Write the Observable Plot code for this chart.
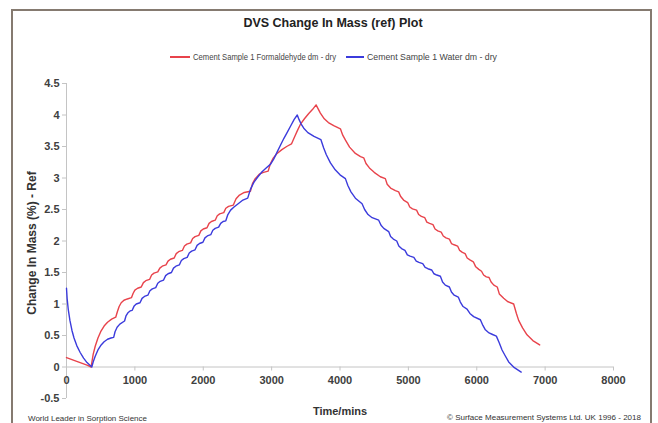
<!DOCTYPE html>
<html>
<head>
<meta charset="utf-8">
<script src="https://cdn.jsdelivr.net/npm/d3@7"></script>
<script src="https://cdn.jsdelivr.net/npm/@observablehq/plot@0.6"></script>
<style>
  html, body { margin: 0; padding: 0; background: #fff; }
  #wrap { position: relative; width: 658px; height: 423px; overflow: hidden; font-family: "Liberation Sans", Arial, sans-serif; }
  #wrap svg.plot { position: absolute; left: 0; top: 0; }
  #overlay { position: absolute; left: 0; top: 0; pointer-events: none; }
</style>
</head>
<body>
<div id="wrap"></div>
<script>
const chartTitle = "DVS Change In Mass (ref) Plot";
const seriesNames = ["Cement Sample 1 Formaldehyde dm - dry", "Cement Sample 1 Water dm - dry"];
const xLabel = "Time/mins";
const yLabel = "Change In Mass (%) - Ref";
const footLeft = "World Leader in Sorption Science";
const footRight = "\u00A9 Surface Measurement Systems Ltd. UK 1996 - 2018";
const xTicks = [0, 1000, 2000, 3000, 4000, 5000, 6000, 7000, 8000];
const yTicks = [-0.5, 0, 0.5, 1, 1.5, 2, 2.5, 3, 3.5, 4, 4.5];

// Formaldehyde series (time in mins, change in mass %)
const formTime = [0, 100, 200, 300, 360, 390, 420, 460, 500, 550, 600, 660, 720, 745, 770, 800, 840, 890, 950, 975, 1000, 1040, 1093,
  1125, 1160, 1215, 1245, 1280, 1335, 1365, 1400, 1455, 1485, 1520, 1575, 1605, 1640, 1695, 1725, 1760, 1815, 1845, 1880, 1935,
  1965, 2000, 2055, 2085, 2120, 2175, 2205, 2240, 2300, 2330, 2370, 2440, 2480, 2530, 2600, 2690, 2720, 2760, 2820, 2880, 2950,
  2980, 3020, 3080, 3150, 3220, 3290, 3330, 3380, 3420, 3480, 3540, 3600, 3650,
  3713, 3770, 3830, 3908, 4006, 4040, 4080, 4140, 4225, 4300, 4347, 4380, 4430, 4500, 4590, 4663, 4690, 4740, 4810, 4858,
  4885, 4930, 4990, 5020, 5060, 5120, 5150, 5190, 5240, 5270, 5310, 5360, 5390, 5430, 5480, 5510, 5550, 5600, 5630, 5670, 5720,
  5750, 5790, 5830, 5860, 5900, 5950, 5985, 6030, 6070, 6100, 6140, 6180, 6210, 6250, 6300, 6330, 6394, 6450, 6540,
  6580, 6613, 6670, 6735, 6820, 6920];
const formMass = [0.15, 0.11, 0.07, 0.03, 0.0, 0.2, 0.33, 0.46, 0.56, 0.65, 0.71, 0.76, 0.79, 0.88, 0.96, 1.02, 1.06, 1.08, 1.10, 1.17, 1.22, 1.25, 1.27,
  1.34, 1.37, 1.39, 1.46, 1.49, 1.51, 1.57, 1.60, 1.62, 1.68, 1.71, 1.73, 1.80, 1.83, 1.85, 1.92, 1.95, 1.97, 2.04, 2.07, 2.09,
  2.16, 2.19, 2.21, 2.28, 2.31, 2.33, 2.40, 2.43, 2.45, 2.52, 2.55, 2.57, 2.67, 2.73, 2.77, 2.79, 2.91, 2.99, 3.06, 3.09, 3.11,
  3.22, 3.31, 3.39, 3.45, 3.50, 3.54, 3.64, 3.76, 3.85, 3.94, 4.02, 4.09, 4.16,
  4.03, 3.94, 3.88, 3.83, 3.78, 3.68, 3.60, 3.49, 3.39, 3.34, 3.32, 3.23, 3.16, 3.09, 3.02, 2.99, 2.90, 2.84, 2.80, 2.78,
  2.71, 2.65, 2.61, 2.54, 2.51, 2.49, 2.42, 2.39, 2.37, 2.30, 2.28, 2.26, 2.19, 2.16, 2.14, 2.08, 2.05, 2.03, 1.96, 1.94, 1.92,
  1.85, 1.82, 1.80, 1.73, 1.70, 1.67, 1.59, 1.55, 1.52, 1.46, 1.43, 1.42, 1.35, 1.30, 1.27, 1.16, 1.09, 1.04, 1.00,
  0.85, 0.74, 0.62, 0.51, 0.42, 0.35];

// Water series
const waterTime = [0, 10, 25, 50, 80, 110, 150, 200, 250, 300, 370, 390, 420, 460, 500, 550, 600, 650, 690, 710, 740, 780, 849,
  870, 898, 930, 961, 990, 1020, 1075, 1105, 1140, 1190, 1220, 1255, 1305, 1335, 1370, 1420, 1450, 1485, 1535, 1565, 1600, 1650,
  1680, 1715, 1765, 1795, 1830, 1880, 1910, 1945, 1995, 2025, 2060, 2110, 2140, 2175, 2225, 2255, 2290, 2330, 2360, 2400, 2450,
  2520, 2580, 2650, 2690, 2740, 2800, 2860, 2920, 2985, 3030, 3080, 3129, 3180, 3226, 3280, 3330, 3375,
  3400, 3430, 3470, 3530, 3620, 3720, 3760, 3800, 3860, 3930, 4000, 4079, 4115, 4160, 4225, 4323, 4360, 4410, 4470, 4566,
  4600, 4640, 4712, 4740, 4780, 4830, 4860, 4900, 4950, 4985, 5025, 5080, 5115, 5155, 5210, 5245, 5285, 5340, 5375, 5415, 5468,
  5500, 5540, 5600, 5630, 5670, 5730, 5760, 5800, 5858, 5900, 5955, 6053, 6090, 6126, 6180, 6223, 6287, 6330, 6370, 6420,
  6467, 6550, 6650];
const waterMass = [1.25, 1.08, 0.92, 0.74, 0.58, 0.46, 0.34, 0.23, 0.14, 0.07, 0.0, 0.08, 0.17, 0.27, 0.34, 0.40, 0.44, 0.46, 0.47, 0.56, 0.63, 0.68, 0.73,
  0.81, 0.86, 0.89, 0.90, 0.97, 1.00, 1.02, 1.09, 1.12, 1.14, 1.21, 1.24, 1.26, 1.33, 1.36, 1.38, 1.45, 1.48, 1.50, 1.57, 1.60, 1.62,
  1.69, 1.72, 1.74, 1.81, 1.84, 1.86, 1.93, 1.96, 1.98, 2.05, 2.08, 2.10, 2.17, 2.20, 2.22, 2.28, 2.31, 2.32, 2.42, 2.49, 2.54,
  2.60, 2.65, 2.68, 2.82, 2.93, 3.02, 3.10, 3.16, 3.22, 3.30, 3.41, 3.52, 3.63, 3.72, 3.83, 3.93, 4.00,
  3.93, 3.86, 3.79, 3.72, 3.66, 3.61, 3.48, 3.37, 3.24, 3.13, 3.05, 2.99, 2.88, 2.78, 2.68, 2.59, 2.50, 2.42, 2.37, 2.33,
  2.25, 2.20, 2.15, 2.07, 2.03, 2.00, 1.92, 1.88, 1.85, 1.78, 1.76, 1.74, 1.68, 1.66, 1.64, 1.58, 1.56, 1.54, 1.48, 1.46, 1.44,
  1.35, 1.30, 1.27, 1.19, 1.14, 1.11, 1.03, 0.96, 0.92, 0.85, 0.80, 0.75, 0.66, 0.59, 0.54, 0.52, 0.49, 0.38, 0.27, 0.17,
  0.08, -0.01, -0.08];

const colors = ["#e8434b", "#3b3bdc"];
const axisGray = "#c4c4c4";
const labelGray = "#404040";

const plot = Plot.plot({
  width: 658,
  height: 423,
  marginLeft: 66,
  marginRight: 45,
  marginTop: 83,
  marginBottom: 25,
  x: { domain: [0, 8000], axis: null },
  y: { domain: [-0.5, 4.5] },
  style: { background: "transparent", fontFamily: "'Liberation Sans', Arial, sans-serif" },
  marks: [
    Plot.ruleY([0], { stroke: axisGray, strokeWidth: 1 }),
    Plot.ruleX([0], { stroke: axisGray, strokeWidth: 1 }),
    Plot.ruleX(xTicks, { x: d => d, y1: 0, y2: 0, insetBottom: -4, stroke: axisGray }),
    Plot.text(xTicks, { x: d => d, y: 0, dy: 13, text: d => String(d), fontSize: 11, fontWeight: "bold", fill: labelGray }),
    Plot.axisY(yTicks, { tickSize: 4, tickPadding: 3, stroke: axisGray, fill: labelGray, color: labelGray, fontSize: 11, fontWeight: "bold", label: null, tickFormat: d => String(d) }),
    Plot.line({ length: formTime.length }, { x: formTime, y: formMass, stroke: colors[0], strokeWidth: 1.4 }),
    Plot.line({ length: waterTime.length }, { x: waterTime, y: waterMass, stroke: colors[1], strokeWidth: 1.4 })
  ]
});
plot.classList.add("plot");
const wrap = document.getElementById("wrap");
wrap.appendChild(plot);

// overlay: frame, title, legend, axis titles, footers
const svg = d3.select(wrap).append("svg").attr("id", "overlay").attr("width", 658).attr("height", 423);
const ff = "'Liberation Sans', Arial, sans-serif";
svg.append("path").attr("d", "M12,423 V10 H651 V423").attr("fill", "none").attr("stroke", "#857a70").attr("stroke-width", 2);
svg.append("text").attr("x", 333).attr("y", 26.5).attr("text-anchor", "middle").attr("font-family", ff)
  .attr("font-weight", "bold").attr("font-size", 12.5).attr("fill", "#222").text(chartTitle);

const legendItems = [{ x1: 170, x2: 190, tx: 193, w: 143 }, { x1: 346, x2: 364, tx: 367, w: 130 }];
legendItems.forEach((it, i) => {
  svg.append("line").attr("x1", it.x1).attr("x2", it.x2).attr("y1", 57).attr("y2", 57).attr("stroke", colors[i]).attr("stroke-width", 2);
  svg.append("text").attr("x", it.tx).attr("y", 60).attr("font-family", ff)
    .attr("font-size", 8.5).attr("fill", "#444")
    .attr("textLength", it.w).attr("lengthAdjust", "spacingAndGlyphs").text(seriesNames[i]);
});

svg.append("text").attr("transform", "translate(36,243) rotate(-90)").attr("text-anchor", "middle").attr("font-family", ff)
  .attr("font-weight", "bold").attr("font-size", 12).attr("fill", "#333").text(yLabel);
svg.append("text").attr("x", 340).attr("y", 415).attr("text-anchor", "middle").attr("font-family", ff)
  .attr("font-weight", "bold").attr("font-size", 11).attr("fill", "#333").text(xLabel);
svg.append("text").attr("x", 28).attr("y", 421).attr("font-family", ff).attr("font-size", 7.2).attr("fill", "#333")
  .attr("textLength", 119).attr("lengthAdjust", "spacingAndGlyphs").text(footLeft);
svg.append("text").attr("x", 447).attr("y", 420).attr("font-family", ff).attr("font-size", 7.5).attr("fill", "#333")
  .attr("textLength", 194).attr("lengthAdjust", "spacingAndGlyphs").text(footRight);
</script>
</body>
</html>
